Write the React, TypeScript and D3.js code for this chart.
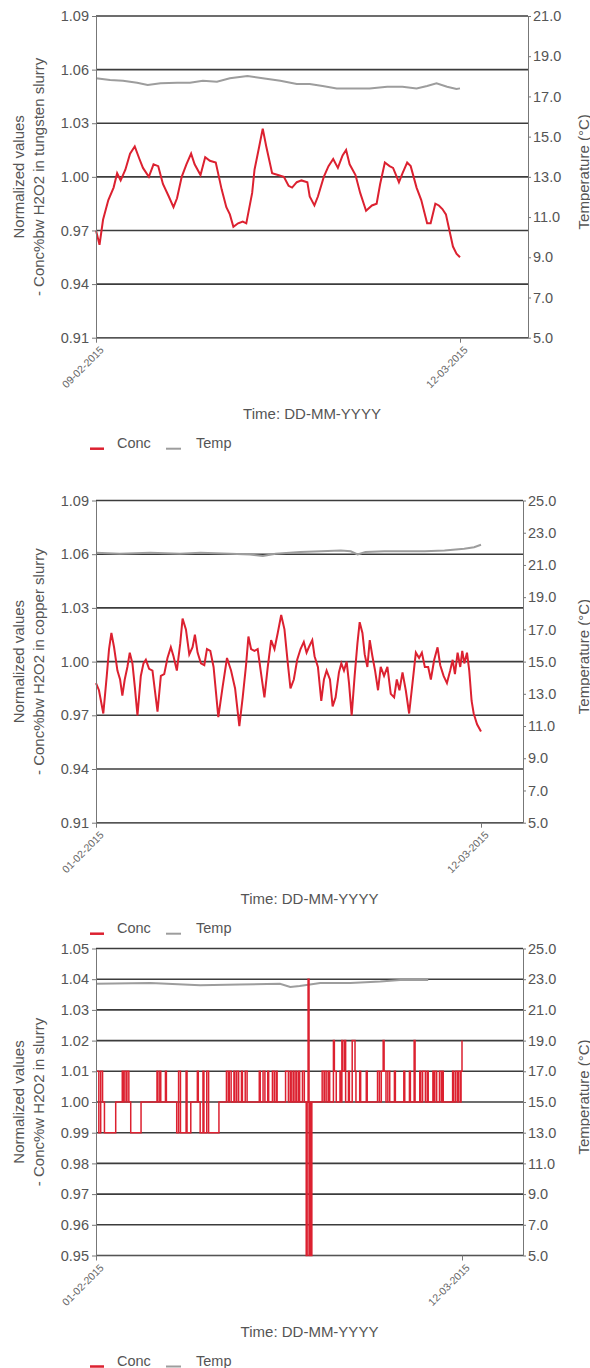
import React, { useEffect, useRef } from "react";
import * as d3 from "d3";

// ---- data (x = days from the first date) ----
const tungstenConc: [number, number][] = [
  [0, 0.97], [0.3, 0.962], [0.6, 0.976], [1.05, 0.987], [1.5, 0.994], [1.8, 1.002], [2.1, 0.998],
  [2.5, 1.004], [2.9, 1.013], [3.3, 1.017], [3.7, 1.01], [4.0, 1.005], [4.5, 1.0], [4.9, 1.007],
  [5.3, 1.006], [5.7, 0.996], [6.2, 0.989], [6.6, 0.983], [6.9, 0.988], [7.3, 1.0], [7.7, 1.007],
  [8.1, 1.013], [8.4, 1.007], [8.9, 1.001], [9.3, 1.011], [9.7, 1.009], [10.2, 1.008], [10.7, 0.993],
  [11.1, 0.983], [11.4, 0.979], [11.7, 0.972], [12.1, 0.974], [12.5, 0.975], [12.8, 0.974],
  [13.3, 0.991], [13.5, 1.004], [13.9, 1.017], [14.2, 1.027], [14.5, 1.017], [15.0, 1.002],
  [15.5, 1.001], [16.0, 1.0], [16.4, 0.995], [16.7, 0.994], [17.1, 0.997], [17.5, 0.998],
  [18.0, 0.997], [18.2, 0.989], [18.6, 0.984], [18.9, 0.989], [19.4, 1.0], [19.8, 1.006],
  [20.2, 1.01], [20.6, 1.005], [21.0, 1.012], [21.3, 1.015], [21.6, 1.007], [22.1, 1.001],
  [22.5, 0.991], [23.0, 0.981], [23.5, 0.984], [23.9, 0.985], [24.2, 0.996], [24.6, 1.008],
  [25.0, 1.006], [25.3, 1.005], [25.8, 0.997], [26.1, 1.002], [26.5, 1.008], [26.8, 1.006],
  [27.3, 0.994], [27.7, 0.987], [28.2, 0.974], [28.5, 0.974], [28.9, 0.985], [29.2, 0.984],
  [29.5, 0.982], [29.8, 0.979], [30.1, 0.97], [30.4, 0.961], [30.7, 0.957], [31.0, 0.955],
];
const tungstenTemp: [number, number][] = [
  [0, 17.9], [1.2, 17.82], [2.3, 17.78], [3.5, 17.68], [4.4, 17.57], [5.5, 17.65], [6.9, 17.68],
  [8.0, 17.68], [9.1, 17.78], [10.3, 17.73], [11.4, 17.9], [12.9, 18.01], [14.2, 17.9],
  [15.7, 17.78], [17.1, 17.62], [18.2, 17.62], [19.3, 17.52], [20.5, 17.4], [21.9, 17.4],
  [23.3, 17.4], [24.8, 17.48], [26.1, 17.48], [27.3, 17.4], [28.2, 17.52], [29.0, 17.65],
  [29.9, 17.48], [30.7, 17.37], [31.0, 17.4],
];

const copperConc: [number, number][] = [
  [0, 0.988], [0.3, 0.984], [0.74, 0.971], [1.09, 0.992], [1.32, 1.007], [1.56, 1.016], [1.83, 1.008],
  [2.17, 0.995], [2.44, 0.99], [2.67, 0.981], [2.91, 0.99], [3.18, 0.997], [3.42, 1.005], [3.69, 0.999],
  [3.93, 0.986], [4.2, 0.97], [4.54, 0.992], [4.81, 0.999], [5.05, 1.001], [5.38, 0.996], [5.72, 0.995],
  [6.23, 0.972], [6.57, 0.992], [6.91, 0.993], [7.24, 1.002], [7.58, 1.008], [7.85, 1.003], [8.19, 0.995],
  [8.53, 1.01], [8.77, 1.024], [9.11, 1.018], [9.45, 1.004], [9.78, 1.008], [10.02, 1.015], [10.29, 1.005],
  [10.63, 0.999], [10.97, 0.998], [11.24, 1.007], [11.58, 1.006], [11.91, 0.997], [12.39, 0.969],
  [12.83, 0.986], [13.27, 1.002], [13.68, 0.995], [14.09, 0.985], [14.52, 0.964], [14.86, 0.98],
  [15.2, 0.998], [15.44, 1.014], [15.71, 1.007], [16.05, 1.006], [16.38, 1.007], [16.73, 0.993],
  [17.06, 0.98], [17.4, 0.997], [17.74, 1.012], [18.08, 1.007], [18.41, 1.016], [18.76, 1.026],
  [19.09, 1.018], [19.43, 0.999], [19.7, 0.985], [20.04, 0.99], [20.38, 1.001], [20.72, 1.007],
  [21.05, 1.011], [21.33, 1.005], [21.56, 1.008], [21.91, 1.012], [22.14, 1.003], [22.48, 0.997],
  [22.82, 0.978], [23.09, 0.99], [23.36, 0.995], [23.7, 0.99], [23.97, 0.975], [24.27, 0.98],
  [24.61, 0.994], [24.85, 0.999], [25.12, 0.995], [25.39, 1.0], [25.63, 0.988], [25.9, 0.97],
  [26.2, 0.992], [26.48, 1.01], [26.71, 1.022], [26.99, 1.016], [27.22, 1.004], [27.49, 0.997],
  [27.73, 1.012], [28.0, 1.003], [28.27, 0.995], [28.57, 0.984], [28.84, 0.997], [29.18, 0.992],
  [29.52, 0.997], [29.86, 0.982], [30.2, 0.98], [30.47, 0.99], [30.74, 0.984], [31.05, 0.994],
  [31.38, 0.984], [31.72, 0.971], [32.06, 0.988], [32.4, 1.005], [32.73, 1.002], [33.01, 1.005],
  [33.31, 0.997], [33.65, 0.997], [33.92, 0.99], [34.26, 1.001], [34.6, 1.008], [34.87, 0.998],
  [35.21, 0.992], [35.55, 0.988], [35.88, 0.995], [36.13, 1.001], [36.36, 0.993], [36.63, 1.005],
  [36.9, 0.997], [37.1, 1.006], [37.31, 0.999], [37.58, 1.005], [37.81, 0.995], [38.05, 0.978],
  [38.26, 0.971], [38.6, 0.965], [39.0, 0.961],
];
const copperTemp: [number, number][] = [
  [0, 21.75], [2.4, 21.7], [5.5, 21.75], [8.5, 21.7], [10.6, 21.75], [13.6, 21.7], [15.6, 21.65],
  [16.9, 21.55], [18.2, 21.7], [20.7, 21.8], [22.8, 21.85], [24.8, 21.9], [25.8, 21.85], [26.5, 21.65],
  [27.3, 21.8], [29.2, 21.85], [31.2, 21.85], [33.3, 21.85], [35.3, 21.9], [37.3, 22.0], [38.3, 22.1],
  [39.0, 22.25],
];

// step signal: [day, value] change points
const slurryConc: [number, number][] = [
  [0, 1.01], [0.3, 0.99], [0.5, 1.01], [0.7, 1.0], [0.9, 0.99], [2.1, 1.0], [2.8, 1.01], [2.9, 1.0],
  [3.0, 1.01], [3.2, 1.0], [3.3, 1.01], [3.5, 1.0], [3.7, 0.99], [4.8, 1.0], [6.5, 1.01], [6.6, 1.0],
  [6.8, 1.01], [6.9, 1.0], [7.4, 1.01], [7.5, 1.0], [8.6, 0.99], [8.8, 1.01], [9.0, 0.99], [9.6, 1.01],
  [9.7, 0.99], [10.1, 1.0], [10.8, 1.01], [10.9, 1.0], [11.1, 0.99], [11.4, 1.01], [11.5, 0.99],
  [11.8, 1.01], [12.0, 0.99], [13.1, 1.0], [13.9, 1.01], [14.1, 1.0], [14.2, 1.01], [14.4, 1.0],
  [14.7, 1.01], [14.8, 1.0], [15.0, 1.01], [15.2, 1.0], [15.5, 1.01], [15.6, 1.0], [15.9, 1.01],
  [16.1, 1.0], [17.4, 1.01], [17.5, 1.0], [17.8, 1.01], [18.0, 1.0], [18.3, 1.01], [18.4, 1.0],
  [18.8, 1.01], [19.0, 1.0], [19.2, 1.01], [19.3, 1.0], [20.2, 1.01], [20.5, 1.0], [20.7, 1.01],
  [20.8, 1.0], [21.0, 1.01], [21.1, 1.0], [21.3, 1.01], [21.4, 1.0], [21.6, 1.01], [21.7, 1.0],
  [22.0, 1.01], [22.2, 1.0], [22.4, 0.95], [22.5, 1.0], [22.6, 1.04], [22.7, 0.95], [22.8, 1.0],
  [22.9, 0.95], [23.0, 1.0], [24.1, 1.01], [24.3, 1.0], [24.4, 1.01], [24.6, 1.0], [24.8, 1.01],
  [24.9, 1.0], [25.3, 1.02], [25.4, 1.01], [25.6, 1.0], [26.0, 1.01], [26.1, 1.0], [26.2, 1.02],
  [26.3, 1.01], [26.5, 1.02], [26.6, 1.0], [26.9, 1.01], [27.0, 1.0], [27.3, 1.02], [27.6, 1.01],
  [27.7, 1.0], [28.1, 1.01], [28.2, 1.0], [28.8, 1.01], [28.9, 1.0], [30.0, 1.01], [30.2, 1.0],
  [30.4, 1.01], [30.6, 1.02], [30.7, 1.01], [30.9, 1.0], [31.1, 1.01], [31.3, 1.0], [31.8, 1.01],
  [31.9, 1.0], [32.8, 1.01], [32.9, 1.0], [33.4, 1.01], [33.5, 1.0], [33.9, 1.02], [34.0, 1.0],
  [34.5, 1.01], [34.6, 1.0], [34.8, 1.01], [35.1, 1.0], [35.3, 1.01], [35.4, 1.0], [35.9, 1.01],
  [36.0, 1.0], [36.1, 1.01], [36.3, 1.0], [36.6, 1.01], [36.8, 1.0], [36.9, 1.01], [37.0, 1.0],
  [38.0, 1.01], [38.1, 1.0], [38.3, 1.01], [38.5, 1.0], [38.6, 1.01], [38.8, 1.0], [38.9, 1.01],
  [39.0, 1.02],
];
const slurryTemp: [number, number][] = [
  [0, 22.7], [5.8, 22.75], [11.1, 22.6], [15.3, 22.65], [19.6, 22.7], [20.7, 22.5], [21.7, 22.55],
  [23.9, 22.75], [27.1, 22.75], [30.3, 22.85], [32.4, 22.95], [35.4, 22.95],
];

const ticks009 = [0.91, 0.94, 0.97, 1.0, 1.03, 1.06, 1.09];
const ticks005 = [0.95, 0.96, 0.97, 0.98, 0.99, 1.0, 1.01, 1.02, 1.03, 1.04, 1.05];
const tempTicks21 = [5, 7, 9, 11, 13, 15, 17, 19, 21];
const tempTicks25 = [5, 7, 9, 11, 13, 15, 17, 19, 21, 23, 25];

const FONT = "'Liberation Sans', Arial, sans-serif";
const TEXT = "#555";
const RED = "#dc2130";
const GREY = "#9d9d9d";

const parseDate = d3.timeParse("%d-%m-%Y");
const fmtDate = d3.timeFormat("%d-%m-%Y");

function Panel({ cfg }: { cfg: any }) {
  const leftRef = useRef<SVGGElement>(null);
  const rightRef = useRef<SVGGElement>(null);
  const bottomRef = useRef<SVGGElement>(null);
  const { top, bottom, left, right, dataEnd } = cfg;

  const start = parseDate(cfg.start) as Date;
  const end = parseDate(cfg.end) as Date;
  const at = (d: number) => new Date(start.getTime() + d * 864e5);
  const x = d3.scaleTime().domain([start, end]).range([left, dataEnd]);
  const y = d3.scaleLinear().domain(d3.extent(cfg.yTicks) as [number, number]).range([bottom, top]);
  const yT = d3.scaleLinear().domain(d3.extent(cfg.tTicks) as [number, number]).range([bottom, top]);

  const concLine = d3
    .line<[number, number]>()
    .x((d) => x(at(d[0])))
    .y((d) => y(d[1]));
  if (cfg.step) concLine.curve(d3.curveStepAfter);
  const tempLine = d3
    .line<[number, number]>()
    .x((d) => x(at(d[0])))
    .y((d) => yT(d[1]));

  useEffect(() => {
    const styleAxis = (g: any, size: number) => {
      g.selectAll("text").attr("font-family", FONT).attr("font-size", size).attr("fill", TEXT);
      g.selectAll("line").attr("stroke", "#777");
      g.select(".domain").attr("stroke", "#777");
    };
    const la = d3.select(leftRef.current);
    la.call(
      d3.axisLeft(y).tickValues(cfg.yTicks).tickFormat(d3.format(".2f")).tickSize(4).tickPadding(3).tickSizeOuter(0)
    );
    styleAxis(la, 14.5);

    const ra = d3.select(rightRef.current);
    ra.call(
      d3.axisRight(yT).tickValues(cfg.tTicks).tickFormat(d3.format(".1f")).tickSize(3).tickPadding(2).tickSizeOuter(0)
    );
    styleAxis(ra, 14.5);

    const ba = d3.select(bottomRef.current);
    ba.call(d3.axisBottom(x).tickValues([start, end]).tickFormat(fmtDate as any).tickSize(5));
    ba.select(".domain").remove();
    styleAxis(ba, 10.5);
    ba.selectAll("text")
      .attr("text-anchor", "end")
      .attr("x", 0)
      .attr("y", 0)
      .attr("dy", null)
      .attr("fill", "#666")
      .attr("transform", "translate(8,13) rotate(-45)");
  }, []);

  const mid = (top + bottom) / 2;
  const cx = (left + right) / 2;

  return (
    <g>
      {cfg.yTicks.map((t: number) => (
        <line key={t} x1={left} x2={right} y1={y(t)} y2={y(t)} stroke="#3c3c3c" strokeWidth={1.6} />
      ))}
      <line x1={left} x2={right} y1={bottom} y2={bottom} stroke="#555" strokeWidth={1.2} />
      <path d={tempLine(cfg.temp) || ""} fill="none" stroke={GREY} strokeWidth={2} />
      <path d={concLine(cfg.conc) || ""} fill="none" stroke={RED} strokeWidth={cfg.step ? 1.5 : 2} />
      <g ref={leftRef} transform={`translate(${left},0)`} />
      <g ref={rightRef} transform={`translate(${right},0)`} />
      <g ref={bottomRef} transform={`translate(0,${bottom})`} />

      <g fontFamily={FONT} fill={TEXT} fontSize={15}>
        <text transform={`translate(18,${mid}) rotate(-90)`} textAnchor="middle" dominantBaseline="central">
          Normalized values
        </text>
        <text transform={`translate(38,${mid}) rotate(-90)`} textAnchor="middle" dominantBaseline="central">
          {cfg.label}
        </text>
        <text transform={`translate(583,${mid - 5}) rotate(-90)`} textAnchor="middle" dominantBaseline="central">
          Temperature (°C)
        </text>
        <text x={cx} y={bottom + 81} textAnchor="middle">
          Time: DD-MM-YYYY
        </text>
        <g fontSize={14.5}>
          <line x1={90} x2={104} y1={bottom + 111} y2={bottom + 111} stroke={RED} strokeWidth={2.5} />
          <text x={117} y={bottom + 110}>Conc</text>
          <line x1={166} x2={181} y1={bottom + 111} y2={bottom + 111} stroke={GREY} strokeWidth={2} />
          <text x={196} y={bottom + 110}>Temp</text>
        </g>
      </g>
    </g>
  );
}

const panels = [
  {
    top: 16, bottom: 337.7, left: 96, right: 528, dataEnd: 460,
    start: "09-02-2015", end: "12-03-2015", yTicks: ticks009, tTicks: tempTicks21,
    conc: tungstenConc, temp: tungstenTemp, step: false,
    label: "- Conc%bw H2O2 in tungsten slurry",
  },
  {
    top: 500.5, bottom: 822.7, left: 96, right: 523, dataEnd: 481,
    start: "01-02-2015", end: "12-03-2015", yTicks: ticks009, tTicks: tempTicks25,
    conc: copperConc, temp: copperTemp, step: false,
    label: "- Conc%bw H2O2 in copper slurry",
  },
  {
    top: 948.5, bottom: 1255.5, left: 96, right: 523, dataEnd: 462,
    start: "01-02-2015", end: "12-03-2015", yTicks: ticks005, tTicks: tempTicks25,
    conc: slurryConc, temp: slurryTemp, step: true,
    label: "- Conc%w H2O2 in slurry",
  },
];

export default function App() {
  return (
    <svg
      width={590}
      height={1368}
      style={{ position: "absolute", left: 0, top: 0, background: "#fff" }}
    >
      {panels.map((p, i) => (
        <Panel key={i} cfg={p} />
      ))}
    </svg>
  );
}
